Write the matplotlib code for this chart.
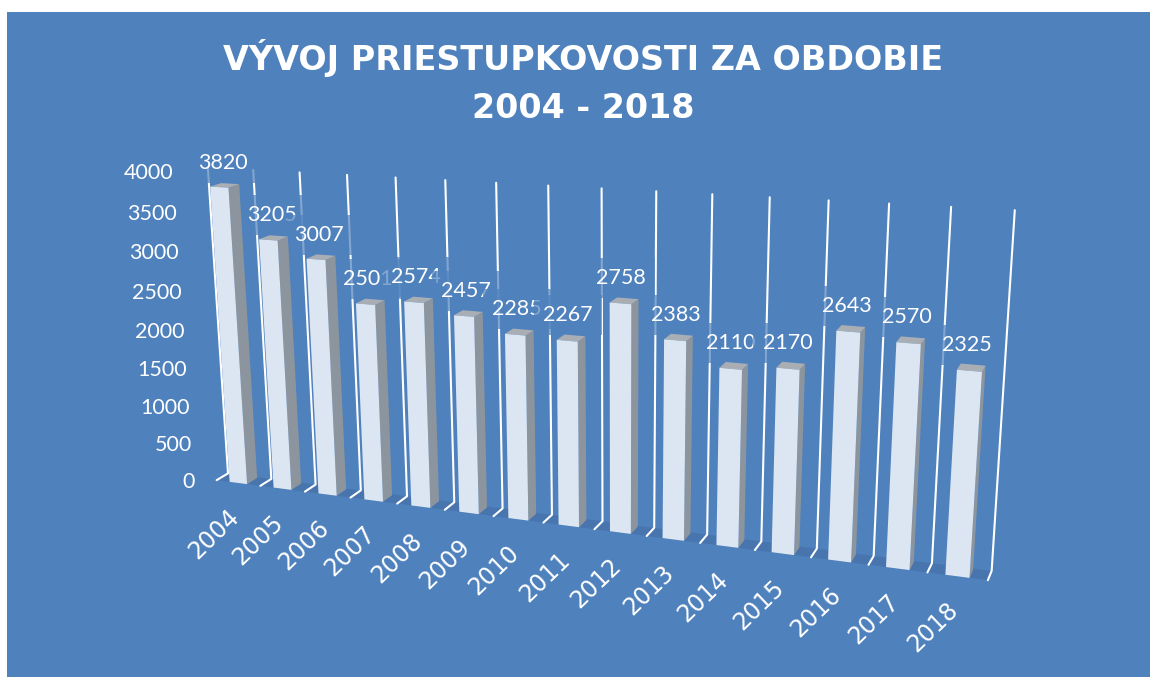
import numpy as np
import matplotlib
matplotlib.use("Agg")
import matplotlib.pyplot as plt
from matplotlib.patches import Polygon, Rectangle

years = ["2004", "2005", "2006", "2007", "2008", "2009", "2010", "2011",
         "2012", "2013", "2014", "2015", "2016", "2017", "2018"]
values = [3820, 3205, 3007, 2501, 2574, 2457, 2285, 2267,
          2758, 2383, 2110, 2170, 2643, 2570, 2325]
y_ticks = [0, 500, 1000, 1500, 2000, 2500, 3000, 3500, 4000]
title = "VÝVOJ PRIESTUPKOVOSTI ZA OBDOBIE\n2004 - 2018"

BG = "#4F81BD"
FLOOR = "#4875AE"
FRONT = "#DCE6F2"
SIDE = "#8C959E"
TOP = "#A8AEB4"
Y_MAX = 4000

# camera calibration: (category, value, depth) seen at (px, py)
calib = [
    (0, 0, 0, 228, 473), (1, 0, 0, 272, 479), (6, 0, 0, 503, 509),
    (12, 0, 0, 816, 548), (14, 0, 0, 932, 563), (15, 0, 0, 992, 571),
    (0, 4000, 0, 207, 168), (1, 4000, 0, 253, 171), (6, 4000, 0, 496, 182),
    (12, 4000, 0, 829, 200), (14, 4000, 0, 951, 207), (15, 4000, 0, 1015, 210),
    (0, 0, 1, 216, 480), (6, 0, 1, 493, 517), (14, 0, 1, 928, 572), (15, 0, 1, 988, 580),
    (0.3, 3820, 1, 211, 186), (0.7, 3820, 1, 229, 187),
    (14.3, 2325, 1, 956, 370), (14.7, 2325, 1, 982, 373),
]


def fit_camera(points):
    rows = []
    for c, v, d, px, py in points:
        w = [c, v / Y_MAX, d, 1]
        rows.append(w + [0, 0, 0, 0] + [-px * a for a in w])
        rows.append([0, 0, 0, 0] + w + [-py * a for a in w])
    _, _, vt = np.linalg.svd(np.array(rows, dtype=float))
    return vt[-1].reshape(3, 4)


cam = fit_camera(calib)


def project(c, v, d):
    p = cam @ np.array([c, v / Y_MAX, d, 1.0])
    return p[0] / p[2], p[1] / p[2]


fig = plt.figure(figsize=(11.5, 6.77), dpi=100, facecolor="white")
ax = fig.add_axes([0, 0, 1, 1])
ax.set_xlim(0, 1150)
ax.set_ylim(677, 0)
ax.axis("off")

ax.add_patch(Rectangle((7, 12), 1143, 665, fc=BG, ec="none", zorder=0))

# floor
n = len(years)
ax.add_patch(Polygon([project(0, 0, 0), project(n, 0, 0), project(n, 0, 1), project(0, 0, 1)],
                     fc=FLOOR, ec="none", zorder=1))

# gridlines with their little stubs
for i in range(n + 1):
    pts = [project(i, Y_MAX, 0), project(i, 0, 0), project(i, 0, 1)]
    ax.plot([p[0] for p in pts], [p[1] for p in pts], color="white", lw=1.5, zorder=2,
            solid_capstyle="round", solid_joinstyle="round")

# value labels, each box half hides the gridlines and the label before it
for i, val in enumerate(values):
    x, y = project(i + 0.4, val, 0.5)
    x += 2
    y -= 22
    ax.add_patch(Rectangle((x - 34, y - 20), 68, 40, fc=BG, ec="none", alpha=0.7, zorder=3 + i))
    ax.text(x, y, str(val), color="white", fontsize=15.5, family="Lato",
            ha="center", va="center", zorder=3.5 + i)

# bars go over the label boxes so the boxes do not tint them
c0, c1, d0, d1 = 0.3, 0.7, 1.0, 0.1
for i, val in enumerate(values):
    z = 20 + i * 0.01
    l, r = i + c0, i + c1
    ax.add_patch(Polygon([project(r, 0, d0), project(r, 0, d1), project(r, val, d1), project(r, val, d0)],
                         fc=SIDE, ec="none", zorder=z))
    ax.add_patch(Polygon([project(l, val, d0), project(r, val, d0), project(r, val, d1), project(l, val, d1)],
                         fc=TOP, ec="none", zorder=z))
    ax.add_patch(Polygon([project(l, 0, d0), project(r, 0, d0), project(r, val, d0), project(l, val, d0)],
                         fc=FRONT, ec="none", zorder=z))

# axis labels
for t in y_ticks:
    x, y = project(0, t, 1)
    ax.text(x - 22, y + 2, str(t), color="white", fontsize=15.5, family="Lato", ha="right", va="center")

for i, yr in enumerate(years):
    x, y = project(i + 0.5, 0, 1)
    ax.text(x - 24, y + 51, yr, color="white", fontsize=17, family="DejaVu Sans", rotation=44,
            ha="center", va="center", rotation_mode="anchor")

ax.text(583, 82, title, color="white", fontsize=24, fontweight="bold", family="DejaVu Sans",
        ha="center", va="center", linespacing=1.55, zorder=30)

fig.savefig("out.png", dpi=100)
